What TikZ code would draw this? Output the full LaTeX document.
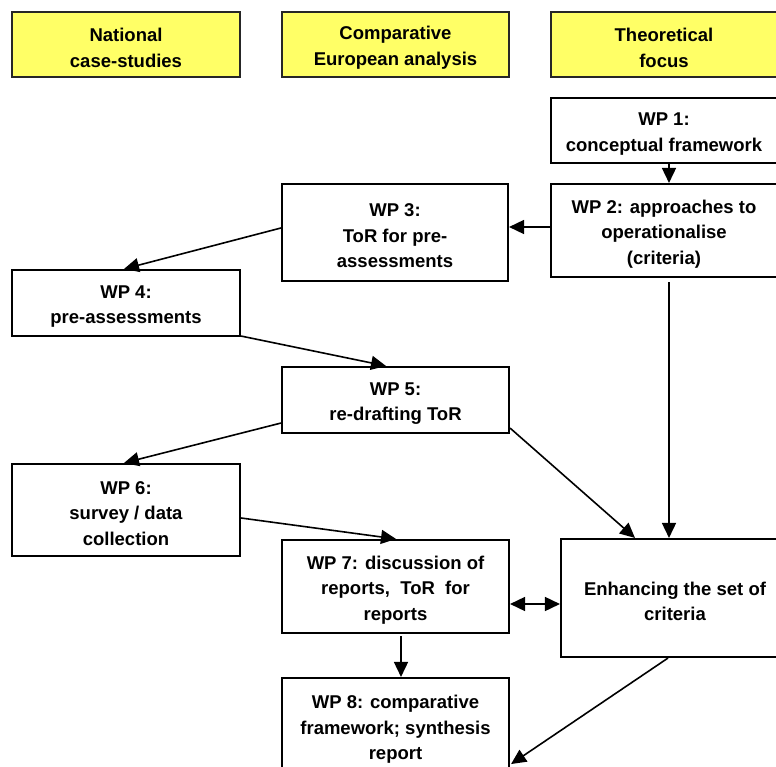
\documentclass[tikz,border=0pt]{standalone}
\usepackage{fontspec}
\setmainfont{Liberation Sans}
\usetikzlibrary{arrows.meta,calc}
\definecolor{hdryellow}{RGB}{255,255,102}
\newcommand\topstrut{\rule{0pt}{20pt}}
\begin{document}
\begin{tikzpicture}[x=1pt,y=-1pt,
  box/.style={draw=black,line width=2.1pt,fill=white,rectangle,inner sep=0pt,align=center,
    font=\bfseries\fontsize{18.5}{25.5}\selectfont},
  hdr/.style={box,fill=hdryellow,draw=black!85},
  conn/.style={line width=1.6pt,-{Triangle[length=15pt,width=14pt]}},
  bconn/.style={line width=1.6pt,{Triangle[length=15pt,width=14pt]}-{Triangle[length=15pt,width=14pt]}}]
\useasboundingbox (0,0) rectangle (776,767);
\begin{scope}
\clip (0,0) rectangle (776,767);
% headers
\node[hdr,minimum width=228pt,minimum height=65pt] (h1) at (126,44.5) {\topstrut National\\case-studies};
\node[hdr,minimum width=227pt,minimum height=65pt] (h2) at (395.5,44.5) {\topstrut Comparative\\European analysis};
\node[hdr,minimum width=226pt,minimum height=65pt] (h3) at (664,44.5) {\topstrut Theoretical\\focus};
% work packages
\node[box,minimum width=226pt,minimum height=65pt] (wp1) at (664,130.5) {\topstrut WP 1:\\conceptual framework};
\node[box,minimum width=226pt,minimum height=93pt] (wp2) at (664,230.5) {\topstrut WP 2: approaches to\\operationalise\\(criteria)};
\node[box,minimum width=226pt,minimum height=97pt] (wp3) at (395,232.5) {\topstrut WP 3:\\ToR for pre-\\assessments};
\node[box,minimum width=228pt,minimum height=66pt] (wp4) at (126,303) {\topstrut WP 4:\\pre-assessments};
\node[box,minimum width=227pt,minimum height=66pt] (wp5) at (395.5,400) {\topstrut WP 5:\\re-drafting ToR};
\node[box,minimum width=228pt,minimum height=92pt] (wp6) at (126,510) {\topstrut WP 6:\\survey / data\\collection};
\node[box,minimum width=227pt,minimum height=93pt] (wp7) at (395.5,586.5) {\topstrut WP 7: discussion of\\reports,\ \ ToR\ \ for\\reports};
\node[box,minimum width=228pt,minimum height=118pt] (en) at (675,598) {\topstrut Enhancing the set of\\criteria};
\node[box,minimum width=227pt,minimum height=96pt] (wp8) at (395.5,726) {\topstrut WP 8: comparative\\framework; synthesis\\report};
% connector end points
\coordinate (a1) at ($(wp1.south)+(5,0)$);
\coordinate (a2) at ($(wp2.west)+(0,-3.5)$);
\coordinate (a3) at ($(wp2.south)+(5,4)$);
\coordinate (a4) at ($(wp7.east)+(0,17.5)$);
\coordinate (a5) at ($(wp7.south)+(5.5,2)$);
% connectors
\draw[conn] (a1) -- (a1 |- wp2.north);
\draw[conn] (a2) -- (a2 -| wp3.east);
\draw[conn] ($(wp3.west)+(0,-4.5)$) -- ($(wp4.north)+(-2,0)$);
\draw[conn] ($(wp4.south east)+(0,-1)$) -- ($(wp5.north)+(-9.5,0)$);
\draw[conn] ($(wp5.south west)+(0,-11)$) -- ($(wp6.north)+(-2,0)$);
\draw[conn] ($(wp6.east)+(0,8)$) -- ($(wp7.north)+(0.5,0)$);
\draw[conn] ($(wp5.south east)+(0,-6)$) -- ($(en.north)+(-40,0)$);
\draw[conn] (a3) -- (a3 |- en.north);
\draw[bconn] (a4) -- (a4 -| en.west);
\draw[conn] (a5) -- (a5 |- wp8.north);
\draw[conn] ($(en.south)+(-7,0)$) -- ($(wp8.south east)+(1,-11)$);
\end{scope}
\end{tikzpicture}
\end{document}
